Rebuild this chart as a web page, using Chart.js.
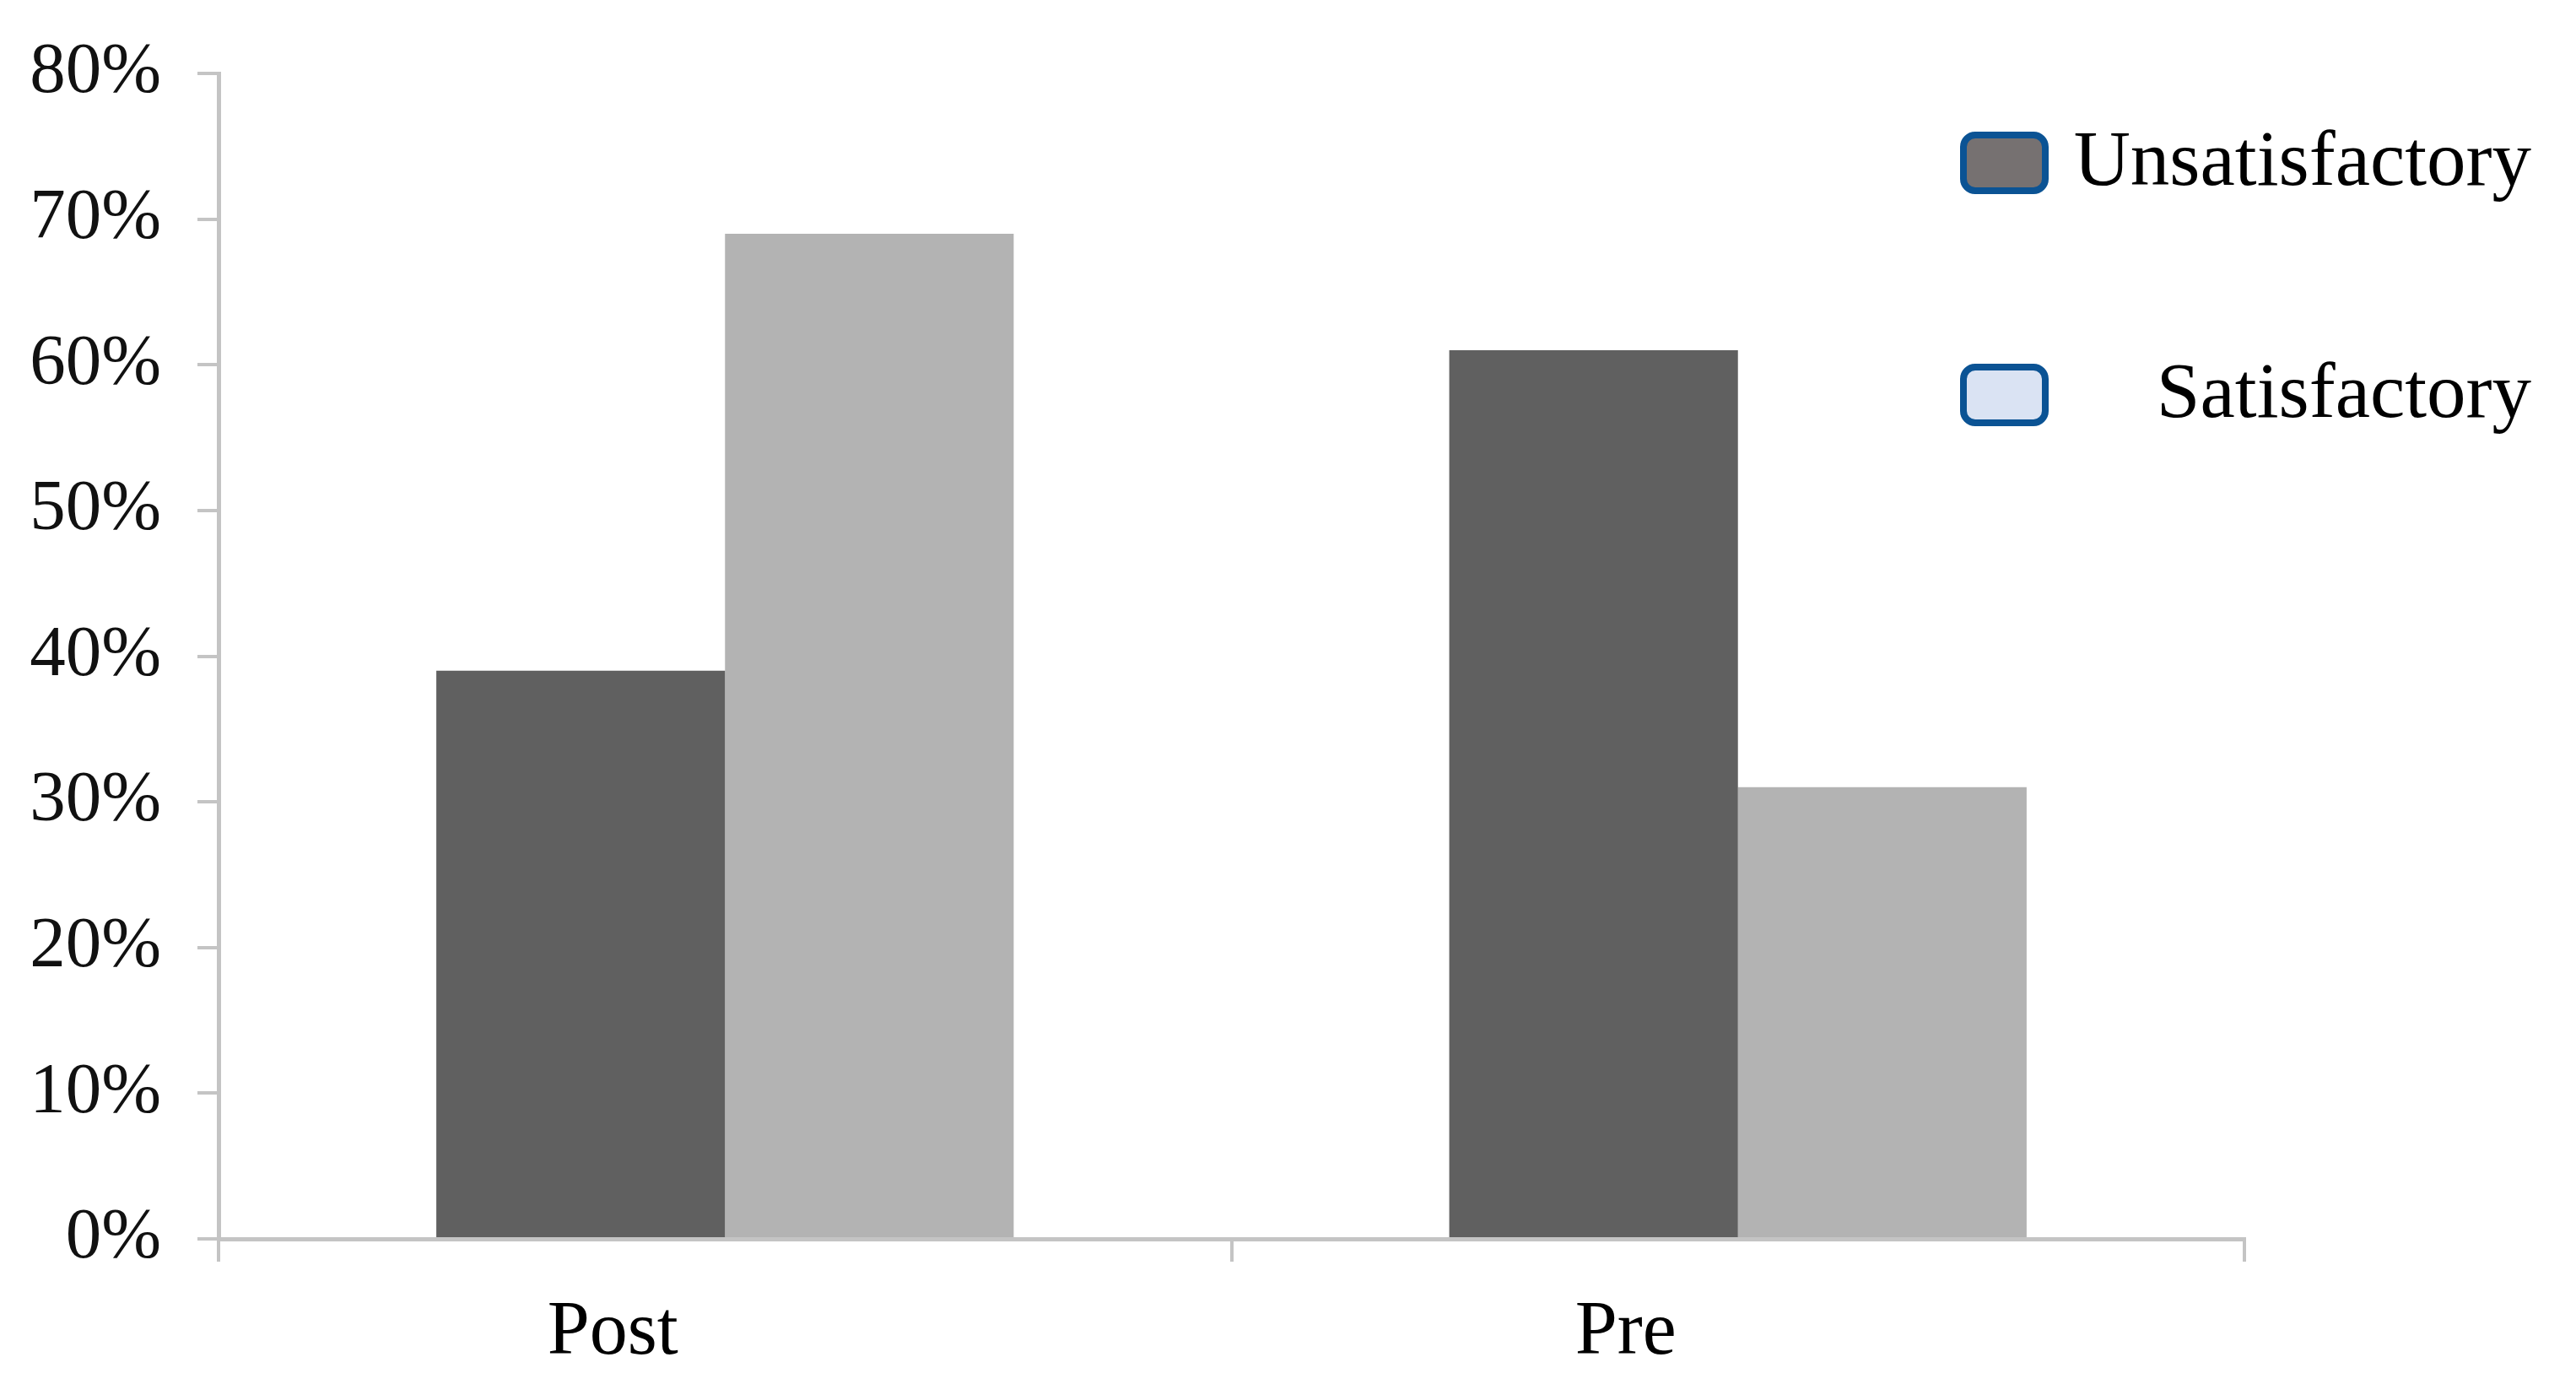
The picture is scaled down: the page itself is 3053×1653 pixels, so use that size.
<!DOCTYPE html>
<html>
<head>
<meta charset="utf-8">
<script src="https://cdn.jsdelivr.net/npm/chart.js@4.4.1/dist/chart.umd.min.js"></script>
<style>
  html, body { margin: 0; padding: 0; background: #ffffff; }
  #wrap { width: 3053px; height: 1653px; }
</style>
</head>
<body>
<div id="wrap"><canvas id="c" width="3053" height="1653"></canvas></div>
<script>
// ---- data ----
const categories = ['Post', 'Pre'];
const seriesNames = ['Unsatisfactory', 'Satisfactory'];
const unsatisfactory = [39, 61];
const satisfactory = [69, 31];
const barColors = ['#606060', '#b3b3b3'];
const legendFills = ['#767171', '#dae3f3'];
const legendBorder = '#0b5394';
const yTickValues = [0, 10, 20, 30, 40, 50, 60, 70, 80];

const serif = '"Liberation Serif", "Times New Roman", serif';

const legendPlugin = {
  id: 'customLegend',
  afterDraw(chart) {
    const ctx = chart.ctx;
    const ys = [193, 468];
    const boxW = 97, boxH = 66, boxX = 2327;
    ctx.save();
    chart.data.datasets.forEach((ds, i) => {
      const cy = ys[i];
      ctx.beginPath();
      ctx.roundRect(boxX, cy - boxH / 2, boxW, boxH, 14);
      ctx.fillStyle = legendFills[i];
      ctx.fill();
      ctx.lineWidth = 8;
      ctx.strokeStyle = legendBorder;
      ctx.stroke();
      ctx.font = '93px ' + serif;
      ctx.fillStyle = '#000';
      ctx.textAlign = 'right';
      ctx.textBaseline = 'middle';
      ctx.fillText(ds.label, 3000, cy + 2);
    });
    ctx.restore();
  }
};

new Chart(document.getElementById('c'), {
  type: 'bar',
  data: {
    labels: categories,
    datasets: [
      { label: seriesNames[0], data: unsatisfactory, backgroundColor: barColors[0], borderWidth: 0 },
      { label: seriesNames[1], data: satisfactory, backgroundColor: barColors[1], borderWidth: 0 }
    ]
  },
  options: {
    responsive: false,
    animation: false,
    devicePixelRatio: 1,
    layout: { padding: { top: 87, right: 393, bottom: 0, left: 0 } },
    plugins: { legend: { display: false }, tooltip: { enabled: false } },
    datasets: { bar: { categoryPercentage: 0.57, barPercentage: 1.0 } },
    scales: {
      x: {
        afterFit(scale) { scale.height = 185; scale.paddingLeft = 0; scale.paddingRight = 0; },
        grid: { offset: true, drawOnChartArea: false, drawTicks: true, tickLength: 27, color: '#c4c4c4', lineWidth: 4 },
        border: { display: true, color: '#c4c4c4', width: 5 },
        ticks: { font: { family: serif, size: 90 }, color: '#000', padding: 31, labelOffset: -133 }
      },
      y: {
        min: 0, max: 80,
        afterFit(scale) { scale.width = 259; scale.paddingTop = 0; scale.paddingBottom = 0; },
        afterBuildTicks(scale) { scale.ticks = yTickValues.map(v => ({ value: v })); },
        grid: { drawOnChartArea: false, drawTicks: true, tickLength: 25, color: '#c4c4c4', lineWidth: 4 },
        border: { display: true, color: '#c4c4c4', width: 5 },
        ticks: { font: { family: serif, size: 85 }, color: '#111', padding: 43, callback: v => v + '%' }
      }
    }
  },
  plugins: [legendPlugin]
});
</script>
</body>
</html>
